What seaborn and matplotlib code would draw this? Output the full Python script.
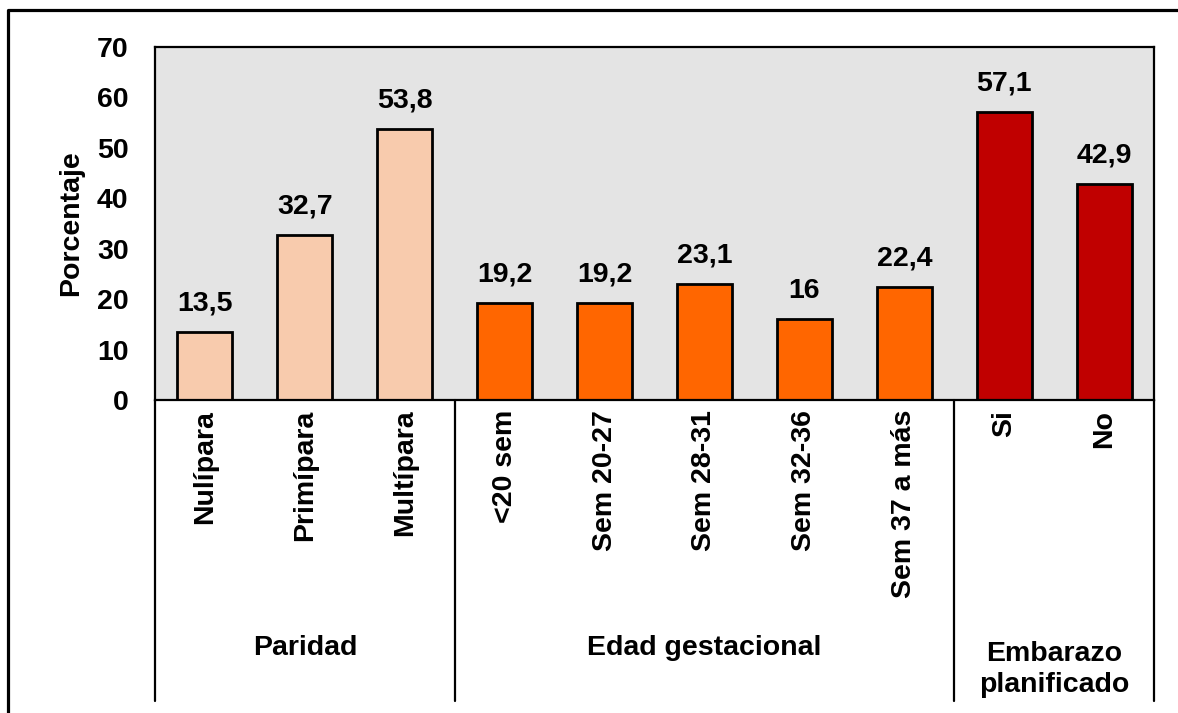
import matplotlib
matplotlib.use("Agg")
import matplotlib.pyplot as plt
import matplotlib.transforms as mtransforms
from matplotlib.lines import Line2D
import seaborn as sns

categories = ["Nulípara", "Primípara", "Multípara",
              "<20 sem", "Sem 20-27", "Sem 28-31", "Sem 32-36", "Sem 37 a más",
              "Si", "No"]
values = [13.5, 32.7, 53.8, 19.2, 19.2, 23.1, 16, 22.4, 57.1, 42.9]
groups = ["Paridad"] * 3 + ["Edad gestacional"] * 5 + ["Embarazo\nplanificado"] * 2
group_names = ["Paridad", "Edad gestacional", "Embarazo\nplanificado"]
group_colors = ["#F8CBAD", "#FF6600", "#C00000"]
y_ticks = [0, 10, 20, 30, 40, 50, 60, 70]

sns.set_style("white")
plt.rcParams["font.family"] = ["Liberation Sans", "DejaVu Sans"]
plt.rcParams["font.weight"] = "bold"
plt.rcParams["text.color"] = "black"
plt.rcParams["axes.labelcolor"] = "black"
plt.rcParams["xtick.color"] = "black"
plt.rcParams["ytick.color"] = "black"
FS = 20.5

fig = plt.figure(figsize=(11.78, 7.13), dpi=100)
ax = fig.add_axes([155 / 1178, 1 - 400 / 713, 999 / 1178, 353 / 713])
ax.set_facecolor("#E4E4E4")

sns.barplot(x=categories, y=values, hue=groups, palette=dict(zip(group_names, group_colors)),
            dodge=False, width=0.55, edgecolor="black", linewidth=2, saturation=1,
            legend=False, ax=ax)


def fmt(v):
    s = f"{v:.1f}".replace(".", ",")
    return s[:-2] if s.endswith(",0") else s


for cont in ax.containers:
    ax.bar_label(cont, labels=[fmt(v) for v in cont.datavalues], padding=11,
                 fontsize=FS, fontweight="bold", color="black")

ax.set_ylim(0, 70)
ax.set_yticks(y_ticks)
ax.set_xlim(-0.5, len(categories) - 0.5)
ax.set_ylabel("Porcentaje", fontsize=FS, fontweight="bold", labelpad=9, color="black")
ax.tick_params(axis="y", length=0, pad=19, labelsize=FS, labelcolor="black")
ax.tick_params(axis="x", length=0, pad=7, labelsize=FS, labelcolor="black")
ax.set_xticks(range(len(categories)))
ax.set_xticklabels(categories, rotation=90, fontweight="bold")
for lab in ax.get_yticklabels():
    lab.set_fontweight("bold")
for sp in ax.spines.values():
    sp.set_visible(True)
    sp.set_color("black")
    sp.set_linewidth(1.6)

# group separators under the axis
trans = mtransforms.blended_transform_factory(ax.transData, ax.transAxes)
for xs in [-0.5, 2.5, 7.5, len(categories) - 0.5]:
    ax.plot([xs, xs], [0, -0.853], transform=trans, clip_on=False, color="black", lw=1.6)

# group names
centers = [1, 5, 8.5]
ypos = [-0.703, -0.703, -0.764]
for name, cx, yy in zip(group_names, centers, ypos):
    ax.text(cx, yy, name, transform=trans, ha="center", va="center",
            fontsize=FS, fontweight="bold", linespacing=1.25, color="black")

# outer frame
fx = 8 / 1178
fy = 1 - 10 / 713
fig.add_artist(Line2D([fx, fx, 1.0], [0.0, fy, fy], transform=fig.transFigure,
                      color="black", lw=2.3))

fig.savefig("out.png", dpi=100)
